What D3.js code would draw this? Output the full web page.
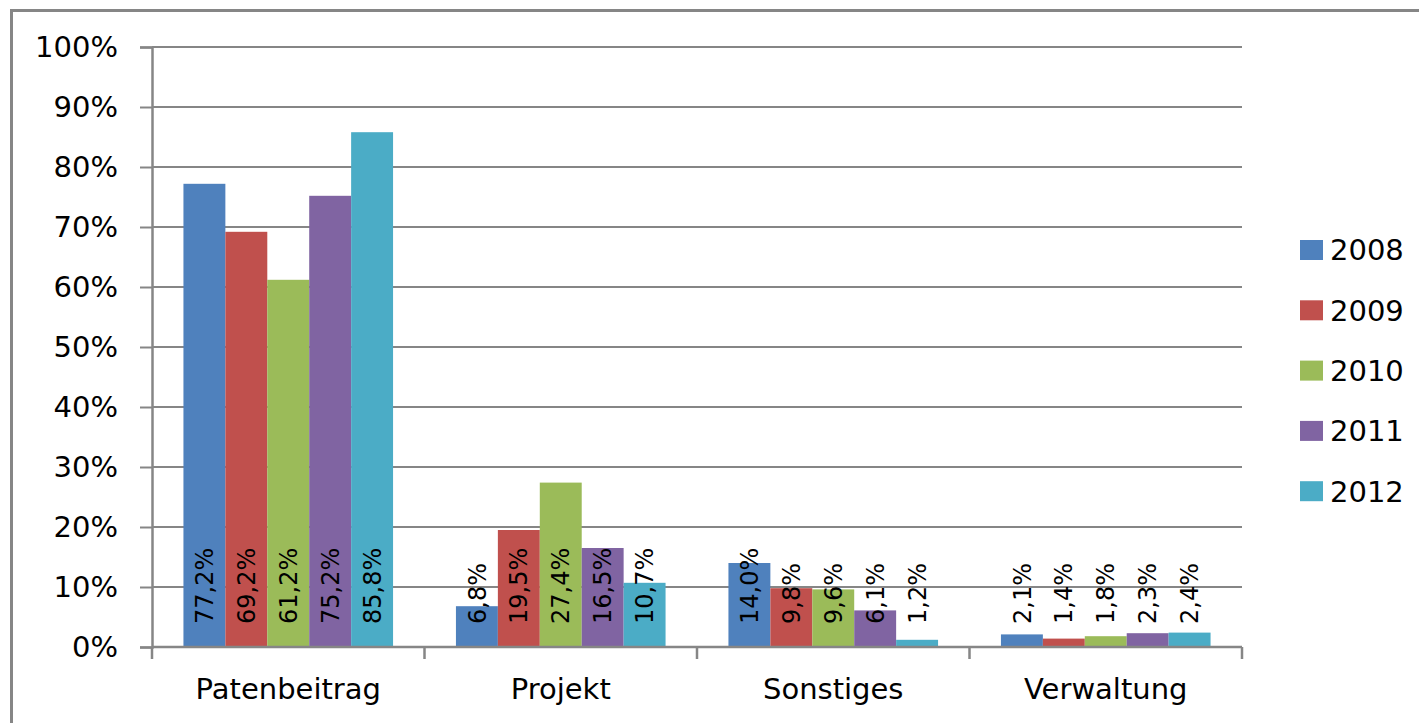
<!DOCTYPE html>
<meta charset="utf-8">
<script src="https://d3js.org/d3.v7.min.js"></script>
<style>
  body { margin: 0; background: #fff; }
  text { font-family: "DejaVu Sans", Verdana, sans-serif; fill: #000; }
</style>
<body>
<div id="chart"></div>
<script>
// categories and series
var categories = ["Patenbeitrag", "Projekt", "Sonstiges", "Verwaltung"];
var years = ["2008", "2009", "2010", "2011", "2012"];
var v2008 = [77.2, 6.8, 14.0, 2.1];
var v2009 = [69.2, 19.5, 9.8, 1.4];
var v2010 = [61.2, 27.4, 9.6, 1.8];
var v2011 = [75.2, 16.5, 6.1, 2.3];
var v2012 = [85.8, 10.7, 1.2, 2.4];
var yTicks = [0, 10, 20, 30, 40, 50, 60, 70, 80, 90, 100];
var colors = ["#4F81BD", "#C0504D", "#9BBB59", "#8064A2", "#4BACC6"];

var series = [v2008, v2009, v2010, v2011, v2012];

var W = 1419, H = 723;
var plot = {left: 152, right: 1242, top: 47, bottom: 647};

var svg = d3.select("#chart").append("svg")
    .attr("width", W)
    .attr("height", H);

// outer frame (only left and top are visible)
svg.append("rect")
    .attr("x", 11.5).attr("y", 10.5)
    .attr("width", W + 20).attr("height", H + 20)
    .attr("fill", "none")
    .attr("stroke", "#868686")
    .attr("stroke-width", 3);

var x0 = d3.scaleBand()
    .domain(categories)
    .range([plot.left, plot.right])
    .padding(0);

var x1 = d3.scaleBand()
    .domain(years)
    .range([0, x0.bandwidth()])
    .paddingInner(0)
    .paddingOuter(0.75);

var y = d3.scaleLinear()
    .domain([0, 100])
    .range([plot.bottom, plot.top]);

// gridlines
svg.append("g")
  .selectAll("line")
  .data(yTicks)
  .enter().append("line")
    .attr("x1", plot.left).attr("x2", plot.right)
    .attr("y1", function(d) { return y(d); })
    .attr("y2", function(d) { return y(d); })
    .attr("stroke", "#868686")
    .attr("stroke-width", 2);

// y axis
var yAxis = svg.append("g")
    .attr("transform", "translate(" + plot.left + ",0)")
    .call(d3.axisLeft(y).tickValues(yTicks).tickSize(12).tickPadding(22)
      .tickFormat(function(d) { return d + "%"; }));
yAxis.select(".domain").attr("stroke", "#868686").attr("stroke-width", 2.5);
yAxis.selectAll(".tick line").attr("stroke", "#868686").attr("stroke-width", 2);
yAxis.selectAll(".tick text")
    .style("font-size", "29px")
    .attr("fill", "#000");

// bars
var groups = svg.append("g")
  .selectAll("g")
  .data(categories)
  .enter().append("g")
    .attr("transform", function(d) { return "translate(" + x0(d) + ",0)"; });

groups.selectAll("rect")
  .data(function(c, i) { return years.map(function(yr, j) { return {year: yr, value: series[j][i], color: colors[j]}; }); })
  .enter().append("rect")
    .attr("x", function(d) { return x1(d.year); })
    .attr("y", function(d) { return y(d.value); })
    .attr("width", x1.bandwidth())
    .attr("height", function(d) { return plot.bottom - y(d.value); })
    .attr("fill", function(d) { return d.color; });

// data labels, rotated, starting near the base
groups.selectAll("text")
  .data(function(c, i) { return years.map(function(yr, j) { return {year: yr, value: series[j][i]}; }); })
  .enter().append("text")
    .attr("transform", function(d) {
      return "translate(" + (x1(d.year) + x1.bandwidth() / 2) + "," + (plot.bottom - 23) + ") rotate(-90)";
    })
    .attr("dy", "0.36em")
    .style("font-size", "24px")
    .text(function(d) { return d.value.toFixed(1).replace(".", ",") + "%"; });

// x axis
var xAxis = svg.append("g")
    .attr("transform", "translate(0," + plot.bottom + ")");
xAxis.append("line")
    .attr("x1", plot.left).attr("x2", plot.right)
    .attr("stroke", "#868686").attr("stroke-width", 2.5);
xAxis.selectAll(".cat-tick")
  .data(categories.concat(["end"]))
  .enter().append("line")
    .attr("x1", function(d, i) { return plot.left + i * x0.step(); })
    .attr("x2", function(d, i) { return plot.left + i * x0.step(); })
    .attr("y1", 0).attr("y2", 12)
    .attr("stroke", "#868686").attr("stroke-width", 2.5);
xAxis.selectAll("text")
  .data(categories)
  .enter().append("text")
    .attr("x", function(d) { return x0(d) + x0.bandwidth() / 2; })
    .attr("y", 52)
    .attr("text-anchor", "middle")
    .style("font-size", "29px")
    .text(function(d) { return d; });

// legend
var legend = svg.append("g")
  .selectAll("g")
  .data(years)
  .enter().append("g")
    .attr("transform", function(d, i) { return "translate(1300," + (250 + i * 60.3) + ")"; });
legend.append("rect")
    .attr("x", 0).attr("y", -10)
    .attr("width", 23).attr("height", 20)
    .attr("fill", function(d, i) { return colors[i]; });
legend.append("text")
    .attr("x", 30)
    .attr("dy", "0.36em")
    .style("font-size", "29px")
    .text(function(d) { return d; });
</script>
</body>
